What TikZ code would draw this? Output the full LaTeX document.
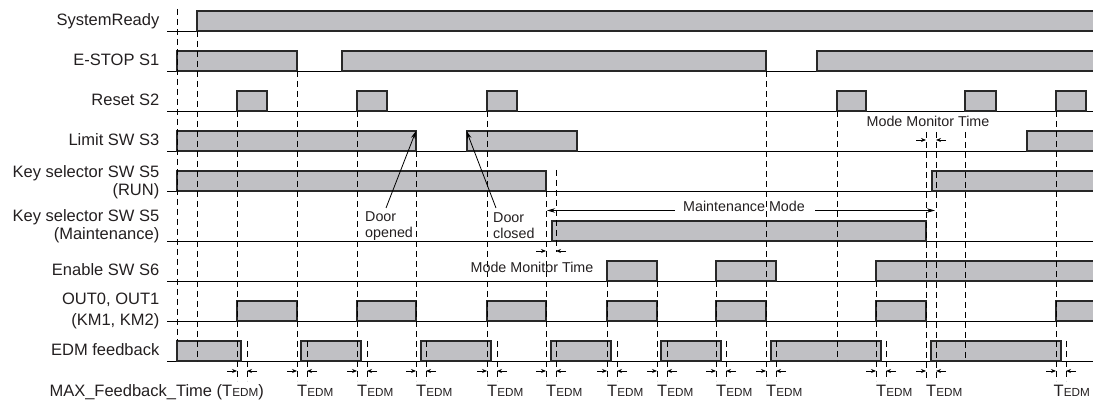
\documentclass[tikz,border=0pt]{standalone}
\usepackage{fontspec}
\setmainfont{Liberation Sans}
\usetikzlibrary{arrows.meta}
\definecolor{sigfill}{RGB}{192,192,196}
\definecolor{sigline}{RGB}{40,40,40}
\definecolor{txt}{RGB}{35,31,32}
\tikzset{
  sigbox/.style={fill=sigfill, draw=sigline, line width=1.1pt},
  baseln/.style={draw=black, line width=0.9pt},
  dashln/.style={draw=black, line width=0.9pt, dash pattern=on 6pt off 4pt},
  lbl/.style={font=\fontsize{16.5}{19}\selectfont, anchor=base east, inner sep=0pt, text=txt},
  note/.style={font=\fontsize{14.3}{16}\selectfont, inner sep=0pt, text=txt},
  tarrow/.style={-{Stealth[length=5pt,width=4pt]}, line width=0.8pt},
  bigarrow/.style={-{Stealth[length=8pt,width=4.5pt]}, line width=0.8pt},
  tlabel/.style={anchor=base west, inner sep=0pt, text=txt},
}
\newcommand{\tedm}{{\fontsize{16.5}{19}\selectfont T}{\fontsize{11.7}{14}\selectfont EDM}}
\newcommand{\sigp}[3]{\draw[sigbox] (#2,#1-20) rectangle (#3,#1);}
\begin{document}
\begin{tikzpicture}[x=1pt,y=-1pt]
\useasboundingbox (0,0) rectangle (1093,403);
% row labels
\node[lbl] (l1) at (159.5,25.4) {SystemReady};
\node[lbl] (l2) at (159.5,65.4) {E-STOP S1};
\node[lbl] (l3) at (159.5,105.4) {Reset S2};
\node[lbl] (l4) at (159.5,145.4) {Limit SW S3};
\node[lbl] (l5a) at (159.5,177.9) {Key selector SW S5};
\node[lbl] (l5b) at (159.5,195.9) {(RUN)};
\node[lbl] (l6a) at (159.5,221.4) {Key selector SW S5};
\node[lbl] (l6b) at (159.5,239.9) {(Maintenance)};
\node[lbl] (l7) at (159.5,275.4) {Enable SW S6};
\node[lbl] (l8a) at (159.5,304.9) {OUT0, OUT1};
\node[lbl] (l8b) at (159.5,325.9) {(KM1, KM2)};
\node[lbl] (l9) at (159.5,355.4) {EDM feedback};
% baselines
\foreach \y in {31,71,111,151,191,241,281,321,361}
  \draw[baseln] (167,\y) -- (1093,\y);
% signals
\sigp{31}{197}{1100}
\sigp{71}{177}{297} \sigp{71}{342}{766} \sigp{71}{817}{1100}
\sigp{111}{237}{267} \sigp{111}{357}{387} \sigp{111}{487}{517}
\sigp{111}{837}{866} \sigp{111}{965}{996} \sigp{111}{1056}{1086}
\sigp{151}{177}{416} \sigp{151}{467}{577} \sigp{151}{1027}{1100}
\sigp{191}{177}{546} \sigp{191}{932}{1100}
\sigp{241}{552}{926}
\sigp{281}{607}{657} \sigp{281}{716}{776} \sigp{281}{876}{1100}
\sigp{321}{237}{297} \sigp{321}{357}{416} \sigp{321}{487}{546}
\sigp{321}{607}{657} \sigp{321}{716}{766} \sigp{321}{876}{926} \sigp{321}{1056}{1100}
\sigp{361}{177}{241} \sigp{361}{301}{361} \sigp{361}{421}{491} \sigp{361}{551}{611}
\sigp{361}{661}{721} \sigp{361}{771}{881} \sigp{361}{931}{1061}
% long dashed lines
\foreach \x/\ya/\yb in {177/9/341, 197/31/361, 237/111/381, 297/71/381, 357/111/381,
  416/151/381, 487/111/381, 546/191/381, 556/170/252, 607/281/381, 657/281/381,
  716/281/381, 766/71/381, 837/111/361, 876/281/381, 926/132/381, 936/132/381,
  965/132/361, 1056/111/381}
  \draw[dashln] (\x,\ya) -- (\x,\yb);
% short TEDM dashed lines
\foreach \x in {247,307,367,426,497,556,617,667,726,776,886,1066}
  \draw[dashln] (\x,341) -- (\x,381);
% TEDM arrows
\foreach \x in {237,297,357,416,487,546,607,657,716,766,876,926,1056} {
  \draw[tarrow] (\x-10,371) -- (\x,371);
  \draw[tarrow] (\x+20,371) -- (\x+10,371);
}
% TEDM labels
\node[tlabel, font=\fontsize{16.5}{19}\selectfont, anchor=base east] (maxft) at (264,397) {MAX\_Feedback\_Time (\tedm)};
\foreach \x in {297,357,416,487,546,607,657,716,766,876,926}
  \node[tlabel] (t\x) at (\x,397) {\tedm};
\node[tlabel, anchor=base east] (tlast) at (1090,397) {\tedm};
% mode monitor time
\draw[tarrow] (536,251) -- (546,251);
\draw[tarrow] (566,251) -- (556,251);
\node[note] (mmt1) at (532,267.5) {Mode Monitor Time};
\draw[tarrow] (916,140) -- (926,140);
\draw[tarrow] (946,140) -- (936,140);
\node[note] (mmt2) at (928,121.5) {Mode Monitor Time};
% maintenance mode
\node[note, anchor=base] (mm) at (744,211.5) {Maintenance Mode};
\coordinate (mmL) at (547,210.5);
\coordinate (mmR) at (935,210.5);
\draw[bigarrow] (675,210.5) -- (mmL);
\draw[bigarrow] (815,210.5) -- (mmR);
% door annotations
\node[note, anchor=west, align=left, font=\fontsize{14.3}{16}\selectfont] (dopen) at (365,226) {Door\\opened};
\node[note, anchor=west, align=left, font=\fontsize{14.3}{16}\selectfont] (dclose) at (493,226) {Door\\closed};
\coordinate (limoff) at (416,131);
\coordinate (limon) at (466.5,131);
\draw[bigarrow] (386,208) -- (limoff);
\draw[bigarrow] (496,208) -- (limon);
\end{tikzpicture}
\end{document}
